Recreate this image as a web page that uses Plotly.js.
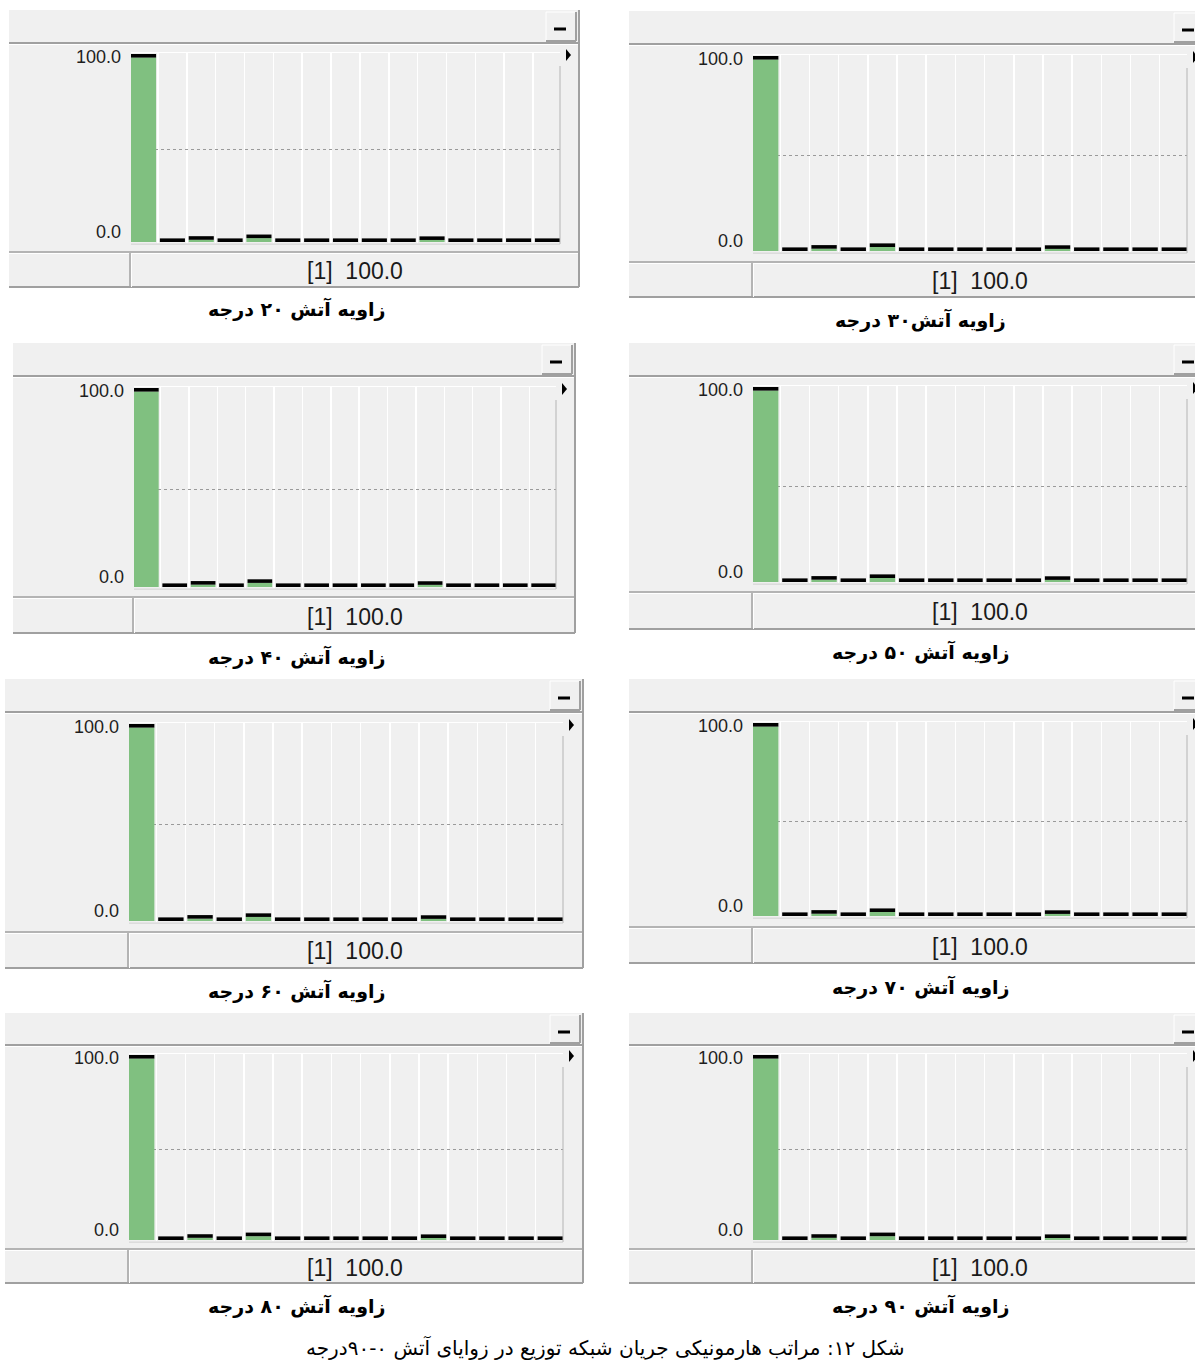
<!DOCTYPE html>
<html>
<head>
<meta charset="utf-8">
<script src="https://cdn.plot.ly/plotly-3.0.1.min.js"></script>
<style>
  html, body { margin: 0; padding: 0; background: #ffffff; }
  #chart { width: 1195px; height: 1360px; }
</style>
</head>
<body>
<div id="chart"></div>
<script>
// harmonic orders and percentages of the fundamental, one array per firing angle
const orders = [1, 2, 3, 4, 5, 6, 7, 8, 9, 10, 11, 12, 13, 14, 15];
const angle20 = [100, 0, 1.2, 0, 2.1, 0, 0, 0, 0, 0, 1.1, 0, 0, 0, 0];
const angle30 = [100, 0, 1.2, 0, 2.1, 0, 0, 0, 0, 0, 1.1, 0, 0, 0, 0];
const angle40 = [100, 0, 1.2, 0, 2.1, 0, 0, 0, 0, 0, 1.1, 0, 0, 0, 0];
const angle50 = [100, 0, 1.2, 0, 2.1, 0, 0, 0, 0, 0, 1.1, 0, 0, 0, 0];
const angle60 = [100, 0, 1.2, 0, 2.1, 0, 0, 0, 0, 0, 1.1, 0, 0, 0, 0];
const angle70 = [100, 0, 1.2, 0, 2.1, 0, 0, 0, 0, 0, 1.1, 0, 0, 0, 0];
const angle80 = [100, 0, 1.2, 0, 2.1, 0, 0, 0, 0, 0, 1.1, 0, 0, 0, 0];
const angle90 = [100, 0, 1.2, 0, 2.1, 0, 0, 0, 0, 0, 1.1, 0, 0, 0, 0];
const yTickVals = [0, 100];
const yTickLabels = ['0.0', '100.0'];
const captions = [
  'زاویه آتش ۲۰ درجه', 'زاویه آتش۳۰ درجه',
  'زاویه آتش ۴۰ درجه', 'زاویه آتش ۵۰ درجه',
  'زاویه آتش ۶۰ درجه', 'زاویه آتش ۷۰ درجه',
  'زاویه آتش ۸۰ درجه', 'زاویه آتش ۹۰ درجه'
];
const figCaption = 'شکل ۱۲: مراتب هارمونیکی جریان شبکه توزیع در زوایای آتش ۰-۹۰درجه';
const series = [angle20, angle30, angle40, angle50, angle60, angle70, angle80, angle90];

const W = 1195, H = 1360;
const X = v => v / W;
const Y = v => 1 - v / H;

// window frames of the 8 screenshots (pixels)
const frames = [
  {l: 9,   r: 579,  t: 10,   strip: 43,   pl: 131, pr: 560,  top: 54,   base: 242,  bt: 253,  b: 287,  split: 130, lab: 123, capx: 296, capy: 309},
  {l: 629, r: 1200, t: 11,   strip: 44,   pl: 753, pr: 1187, top: 56,   base: 251,  bt: 263,  b: 297,  split: 752, lab: 745, capx: 920, capy: 320},
  {l: 13,  r: 575,  t: 343,  strip: 376,  pl: 134, pr: 556,  top: 388,  base: 587,  bt: 598,  b: 633,  split: 133, lab: 126, capx: 296, capy: 657},
  {l: 629, r: 1200, t: 343,  strip: 376,  pl: 753, pr: 1187, top: 387,  base: 582,  bt: 593,  b: 629,  split: 752, lab: 745, capx: 920, capy: 652},
  {l: 5,   r: 583,  t: 679,  strip: 712,  pl: 129, pr: 563,  top: 724,  base: 921,  bt: 933,  b: 968,  split: 128, lab: 121, capx: 296, capy: 991},
  {l: 629, r: 1200, t: 679,  strip: 712,  pl: 753, pr: 1187, top: 723,  base: 916,  bt: 928,  b: 963,  split: 752, lab: 745, capx: 920, capy: 987},
  {l: 5,   r: 583,  t: 1013, strip: 1045, pl: 129, pr: 563,  top: 1055, base: 1240, bt: 1250, b: 1283, split: 128, lab: 121, capx: 296, capy: 1306},
  {l: 629, r: 1200, t: 1013, strip: 1045, pl: 753, pr: 1187, top: 1055, base: 1240, bt: 1250, b: 1283, split: 752, lab: 745, capx: 920, capy: 1306}
];

const BG = '#f0f0f0', EDGE = '#a0a0a0', GREEN = '#80c080';
const GAP = 0.13;
const CAP_PX = 3.6;
const data = [];
const shapes = [];
const annotations = [];
const layout = {
  width: W, height: H,
  margin: {l: 0, r: 0, t: 0, b: 0},
  paper_bgcolor: '#ffffff',
  plot_bgcolor: BG,
  showlegend: false,
  barmode: 'overlay',
  bargap: GAP,
  shapes: shapes,
  annotations: annotations
};

function line(x0, y0, x1, y1, color, width) {
  shapes.push({type: 'line', xref: 'paper', yref: 'paper', x0: X(x0), y0: Y(y0), x1: X(x1), y1: Y(y1),
    line: {color: color, width: width}, layer: 'above'});
}

frames.forEach((f, i) => {
  const k = i + 1;
  const sfx = k === 1 ? '' : String(k);
  const vals = series[i];

  // value 0 on the base line; the black level cap sits on top of each value
  const z0 = f.base, z100 = f.top + CAP_PX;
  const s = (z0 - z100) / 100;
  const yLow = -1 / s;
  const yHigh = 100 + (CAP_PX + 1) / s;
  const capH = CAP_PX / s;

  layout['xaxis' + sfx] = {
    domain: [X(f.pl), X(f.pr)], range: [0.5 + GAP / 2, orders.length + 0.5 - GAP / 2],
    anchor: 'y' + sfx, tickvals: orders.slice(0, -1).map(o => o + 0.5),
    showticklabels: false, ticks: '', showgrid: true, gridcolor: '#ffffff', gridwidth: 1.5,
    zeroline: false, showline: true, linecolor: '#ffffff', linewidth: 1, mirror: true, fixedrange: true
  };
  layout['yaxis' + sfx] = {
    domain: [Y(f.base + 1), Y(f.top - 1)], range: [yLow, yHigh],
    anchor: 'x' + sfx, tickvals: [50], showticklabels: false, ticks: '',
    showgrid: true, gridcolor: '#9a9a9a', griddash: 'dot', gridwidth: 1,
    zeroline: false, fixedrange: true
  };

  data.push({
    type: 'bar', x: orders, y: vals, xaxis: 'x' + sfx, yaxis: 'y' + sfx,
    marker: {color: GREEN, line: {width: 0}}, hoverinfo: 'x+y'
  });
  // black level cap on top of every bar
  data.push({
    type: 'bar', x: orders, y: vals.map(() => capH), base: vals,
    xaxis: 'x' + sfx, yaxis: 'y' + sfx, cliponaxis: false,
    marker: {color: '#000000', line: {width: 0}}, hoverinfo: 'skip'
  });

  // window chrome
  shapes.push({type: 'rect', xref: 'paper', yref: 'paper', x0: X(f.l), x1: X(f.r), y0: Y(f.b), y1: Y(f.t),
    fillcolor: BG, line: {width: 0}, layer: 'below'});
  line(f.l, f.strip, f.r, f.strip, EDGE, 2);
  line(f.l, f.strip + 1.5, f.r, f.strip + 1.5, '#ffffff', 1);
  // minimize button
  const bx = f.l + (i % 2 === 0 ? f.r - f.l - 33 : 545);
  line(bx, f.t + 2, bx + 30, f.t + 2, '#ffffff', 1);
  line(bx, f.t + 2, bx, f.strip - 2, '#ffffff', 1);
  line(bx + 30, f.t + 2, bx + 30, f.strip - 2, EDGE, 2);
  line(bx, f.strip - 2, bx + 30, f.strip - 2, EDGE, 2);
  line(bx + 8, f.t + 19, bx + 20, f.t + 19, '#000000', 3);
  // small arrow at the top right of the plot
  const ax = f.pr + 6;
  shapes.push({type: 'path', xref: 'paper', yref: 'paper',
    path: `M ${X(ax)} ${Y(f.top - 5)} L ${X(ax + 5)} ${Y(f.top + 1)} L ${X(ax)} ${Y(f.top + 7)} Z`,
    fillcolor: '#000000', line: {width: 0}, layer: 'above'});
  // plot right edge and base line
  line(f.pr, f.top + 12, f.pr, f.base + 2, '#b4b4b4', 1);
  line(f.pl, f.base + 2, f.pr, f.base + 2, '#c8c8c8', 1);
  // readout bar
  line(f.l, f.bt - 1, f.r, f.bt - 1, EDGE, 1.5);
  line(f.l, f.bt + 0.5, f.r, f.bt + 0.5, '#ffffff', 1);
  line(f.l, f.b, f.r, f.b, EDGE, 2);
  line(f.split, f.bt, f.split, f.b, EDGE, 1.5);
  line(f.split + 1.5, f.bt, f.split + 1.5, f.b, '#ffffff', 1);
  if (i % 2 === 0) line(f.r, f.t, f.r, f.b, EDGE, 2);

  // y labels
  annotations.push({xref: 'paper', yref: 'y' + sfx, x: X(f.lab), y: yTickVals[1], yshift: 1,
    xanchor: 'right', yanchor: 'middle', showarrow: false, text: yTickLabels[1],
    font: {family: 'Liberation Sans, Arial, sans-serif', size: 18, color: '#1e1e1e'}});
  annotations.push({xref: 'paper', yref: 'y' + sfx, x: X(f.lab), y: yTickVals[0], yshift: 10,
    xanchor: 'right', yanchor: 'middle', showarrow: false, text: yTickLabels[0],
    font: {family: 'Liberation Sans, Arial, sans-serif', size: 18, color: '#1e1e1e'}});
  // readout of the selected harmonic
  const readX = i % 2 === 0 ? 355 : 980;
  annotations.push({xref: 'paper', yref: 'paper', x: X(readX), y: Y((f.bt + f.b) / 2 + 1),
    xanchor: 'center', yanchor: 'middle', showarrow: false,
    text: `[${orders[0]}]\u00a0 ${vals[0].toFixed(1)}`,
    font: {family: 'Liberation Sans, Arial, sans-serif', size: 23, color: '#1a1a1a'}});
  // caption under each window
  annotations.push({xref: 'paper', yref: 'paper', x: X(f.capx), y: Y(f.capy),
    xanchor: 'center', yanchor: 'middle', showarrow: false, text: '<b>' + captions[i] + '</b>',
    font: {family: 'DejaVu Sans, Noto Sans, sans-serif', size: 19, color: '#000000'}});
});

annotations.push({xref: 'paper', yref: 'paper', x: X(605), y: Y(1347),
  xanchor: 'center', yanchor: 'middle', showarrow: false, text: figCaption,
  font: {family: 'DejaVu Sans, Noto Sans, sans-serif', size: 20, color: '#000000'}});

Plotly.newPlot('chart', data, layout, {staticPlot: true});
</script>
</body>
</html>
